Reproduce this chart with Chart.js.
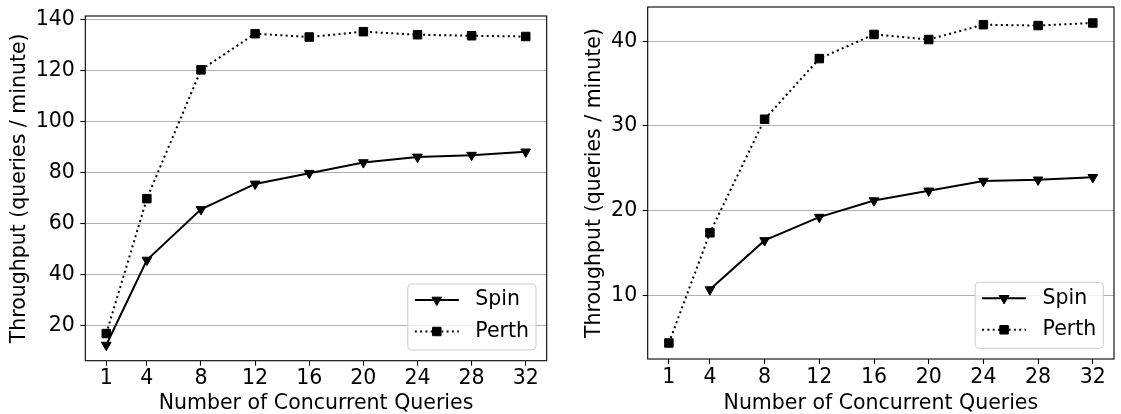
<!DOCTYPE html>
<html>
<head>
<meta charset="utf-8">
<title>Throughput</title>
<script src="https://cdn.jsdelivr.net/npm/chart.js@4/dist/chart.umd.min.js"></script>
<style>
  html, body { margin: 0; padding: 0; background: #fff; }
  #grafEsq { position: absolute; left: 0; top: 0; }
  #grafDir { position: absolute; left: 560px; top: 0; }
</style>
</head>
<body>
<canvas id="grafEsq" width="560" height="414"></canvas>
<canvas id="grafDir" width="561" height="414"></canvas>
<script>
// Dados dos dois gráficos
const concorrencia = [1, 4, 8, 12, 16, 20, 24, 28, 32];
const spinEsq = [12.2, 45.6, 65.5, 75.5, 79.7, 83.9, 86.1, 86.8, 88.1];
const perthEsq = [16.7, 69.7, 120.3, 134.5, 133.2, 135.3, 134.1, 133.7, 133.4];
const spinDir = [null, 10.7, 16.5, 19.25, 21.2, 22.35, 23.5, 23.65, 23.95];
const perthDir = [4.4, 17.4, 30.8, 37.95, 40.8, 40.2, 41.95, 41.85, 42.15];

const ticksX = [1, 4, 8, 12, 16, 20, 24, 28, 32];
const ticksYEsq = [20, 40, 60, 80, 100, 120, 140];
const ticksYDir = [10, 20, 30, 40];

const nomes = ['Spin', 'Perth'];
const tituloX = 'Number of Concurrent Queries';
const tituloY = 'Throughput (queries / minute)';

const fonte = 'DejaVu Sans';
const tamFonte = 20.5;
Chart.defaults.font.family = fonte;
Chart.defaults.color = '#000';

// Limites com margem de 5% (como no matplotlib)
function limites(valores) {
    const v = valores.filter(x => x !== null);
    const min = Math.min(...v);
    const max = Math.max(...v);
    const m = (max - min) * 0.05;
    return { min: min - m, max: max + m };
}

function pontos(valores) {
    return concorrencia.map((x, i) => ({ x: x, y: valores[i] }));
}

// Moldura do gráfico e legenda no canto inferior direito
const molduraLegenda = {
    id: 'molduraLegenda',
    afterDatasetsDraw(chart) {
        const ctx = chart.ctx;
        const a = chart.chartArea;
        ctx.save();
        ctx.strokeStyle = '#000';
        ctx.lineWidth = 1.1;
        ctx.strokeRect(a.left, a.top, a.right - a.left, a.bottom - a.top);

        ctx.font = tamFonte + 'px "' + fonte + '"';
        const sets = chart.data.datasets;
        const larguraTexto = Math.max(...sets.map(d => ctx.measureText(d.label).width));
        const alca = 44, folga = 16.5, pad = 7;
        const largura = pad + alca + folga + larguraTexto + pad;
        const altura = 66;
        const x0 = a.right - 10.7 - largura;
        const y0 = a.bottom - 10.7 - altura;

        ctx.beginPath();
        ctx.roundRect(x0, y0, largura, altura, 4);
        ctx.fillStyle = 'rgba(255,255,255,0.8)';
        ctx.fill();
        ctx.strokeStyle = '#cccccc';
        ctx.lineWidth = 1;
        ctx.stroke();

        sets.forEach((d, i) => {
            const y = y0 + 16 + i * 31.5;
            ctx.beginPath();
            ctx.setLineDash(d.borderDash || []);
            ctx.strokeStyle = d.borderColor;
            ctx.lineWidth = d.borderWidth;
            ctx.moveTo(x0 + pad, y);
            ctx.lineTo(x0 + pad + alca, y);
            ctx.stroke();
            ctx.setLineDash([]);

            ctx.fillStyle = d.pointBackgroundColor;
            ctx.strokeStyle = d.pointBorderColor;
            ctx.lineWidth = d.pointBorderWidth;
            Chart.helpers.drawPoint(ctx, {
                pointStyle: d.pointStyle,
                radius: d.pointRadius,
                rotation: d.pointRotation || 0,
                borderWidth: d.pointBorderWidth
            }, x0 + pad + alca / 2, y);

            ctx.fillStyle = '#000';
            ctx.textBaseline = 'middle';
            ctx.textAlign = 'left';
            ctx.fillText(d.label, x0 + pad + alca + folga, y);
        });
        ctx.restore();
    }
};

function criarGrafico(id, spin, perth, ticksY, cfg) {
    const limY = limites(spin.concat(perth));
    const limX = limites(concorrencia);
    return new Chart(document.getElementById(id), {
        type: 'line',
        data: {
            datasets: [{
                label: nomes[0],
                data: pontos(spin),
                borderColor: '#000',
                backgroundColor: '#000',
                borderWidth: 2,
                pointStyle: 'triangle',
                pointRotation: 180,
                pointRadius: 5.6,
                pointBorderWidth: 1,
                pointBackgroundColor: '#000',
                pointBorderColor: '#000',
                tension: 0,
                spanGaps: false
            }, {
                label: nomes[1],
                data: pontos(perth),
                borderColor: '#000',
                backgroundColor: '#000',
                borderWidth: 2,
                borderDash: [2, 3.3],
                pointStyle: 'rect',
                pointRadius: 6,
                pointBorderWidth: 1,
                pointBackgroundColor: '#000',
                pointBorderColor: '#000',
                tension: 0
            }]
        },
        options: {
            responsive: false,
            animation: false,
            devicePixelRatio: 1,
            layout: { padding: { left: 0, top: cfg.topo, right: cfg.direita, bottom: 0 } },
            plugins: { legend: { display: false }, tooltip: { enabled: false } },
            scales: {
                x: {
                    type: 'linear',
                    min: limX.min,
                    max: limX.max,
                    afterBuildTicks: s => { s.ticks = ticksX.map(v => ({ value: v })); },
                    afterFit: s => { s.height = cfg.alturaX; s.paddingLeft = 0; s.paddingRight = 0; },
                    grid: { drawOnChartArea: false, drawTicks: true, tickLength: 5, tickColor: '#000', tickWidth: 1.1 },
                    border: { display: false },
                    ticks: { font: { size: tamFonte }, padding: 1, color: '#000', maxRotation: 0, callback: v => String(v) },
                    title: { display: true, text: tituloX, color: '#000', font: { size: tamFonte, lineHeight: 1 }, padding: { top: 0, bottom: 0 } }
                },
                y: {
                    type: 'linear',
                    min: limY.min,
                    max: limY.max,
                    afterBuildTicks: s => { s.ticks = ticksY.map(v => ({ value: v })); },
                    afterFit: s => { s.width = cfg.larguraY; s.paddingTop = 0; s.paddingBottom = 0; },
                    grid: { color: '#b0b0b0', lineWidth: 1, drawTicks: true, tickLength: 5, tickColor: '#000', tickWidth: 1.1 },
                    border: { display: false },
                    ticks: { font: { size: tamFonte }, padding: 5.5, color: '#000', callback: v => String(v) },
                    title: { display: true, text: tituloY, color: '#000', font: { size: tamFonte, lineHeight: 1 }, padding: { top: cfg.padTituloY, bottom: 0 } }
                }
            }
        },
        plugins: [molduraLegenda]
    });
}

criarGrafico('grafEsq', spinEsq, perthEsq, ticksYEsq,
    { topo: 16, direita: 13.3, alturaX: 53.3, larguraY: 85.3, padTituloY: 9.3 });
criarGrafico('grafDir', spinDir, perthDir, ticksYDir,
    { topo: 6, direita: 1, alturaX: 55, larguraY: 87.7, padTituloY: 24.3 });
</script>
</body>
</html>
